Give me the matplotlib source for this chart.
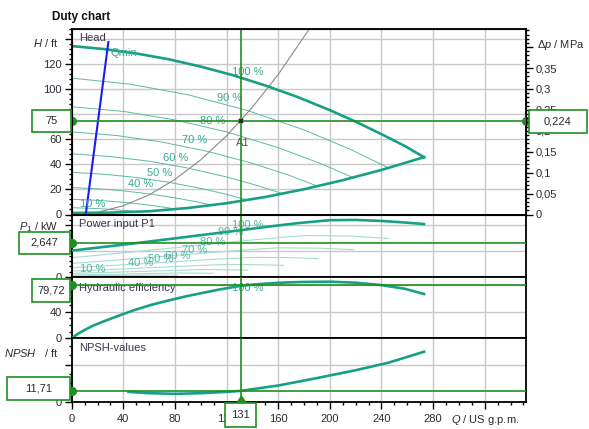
import matplotlib
matplotlib.use("Agg")
import matplotlib.pyplot as plt
from matplotlib.patches import Rectangle
from matplotlib.ticker import FixedLocator, MultipleLocator, FuncFormatter

plt.rcParams['font.family'] = ['Liberation Sans', 'DejaVu Sans']
plt.rcParams['mathtext.fontset'] = 'custom'
plt.rcParams['mathtext.rm'] = 'Liberation Sans'
plt.rcParams['mathtext.it'] = 'Liberation Sans:italic'

W_PX, H_PX = 589, 429

# 100 % speed curves, flow in US gpm
full_q = [0, 25, 50, 75, 100, 125, 150, 175, 200, 220, 240, 258, 273]
full_head = [134.6, 132.2, 128.7, 124.1, 118.2, 111.3, 103.1, 93.9, 83.4, 74.2, 64.2, 54.8, 45.8]
full_power = [2.02, 2.31, 2.60, 2.91, 3.22, 3.53, 3.85, 4.15, 4.38, 4.40, 4.32, 4.20, 4.08]

# reduced speed curves
speed_pct = [90, 80, 70, 60, 50, 40, 30, 20, 10]
speed_q = [
    [0, 45, 90, 135, 180, 216, 245.7],
    [0, 40, 80, 120, 160, 192, 218.4],
    [0, 35, 70, 105, 140, 168, 191.1],
    [0, 30, 60, 90, 120, 144, 163.8],
    [0, 25, 50, 75, 100, 120, 136.5],
    [0, 20, 40, 60, 80, 96, 109.2],
    [0, 15, 30, 45, 60, 72, 81.9],
    [0, 10, 20, 30, 40, 48, 54.6],
    [0, 5, 10, 15, 20, 24, 27.3],
]
speed_head = [
    [109.0, 104.2, 95.7, 83.5, 67.6, 52.0, 37.1],
    [86.1, 82.4, 75.6, 66.0, 53.4, 41.1, 29.3],
    [66.0, 63.1, 57.9, 50.5, 40.9, 31.5, 22.4],
    [48.5, 46.3, 42.6, 37.1, 30.0, 23.1, 16.5],
    [33.7, 32.2, 29.6, 25.8, 20.9, 16.1, 11.5],
    [21.5, 20.6, 18.9, 16.5, 13.3, 10.3, 7.3],
    [12.1, 11.6, 10.6, 9.3, 7.5, 5.8, 4.1],
    [5.4, 5.1, 4.7, 4.1, 3.3, 2.6, 1.8],
    [1.3, 1.3, 1.2, 1.0, 0.8, 0.6, 0.5],
]
speed_power = [
    [1.47, 1.90, 2.35, 2.81, 3.19, 3.15, 2.97],
    [1.03, 1.33, 1.65, 1.97, 2.24, 2.21, 2.09],
    [0.69, 0.89, 1.10, 1.32, 1.50, 1.48, 1.40],
    [0.44, 0.56, 0.70, 0.83, 0.95, 0.93, 0.88],
    [0.25, 0.33, 0.40, 0.48, 0.55, 0.54, 0.51],
    [0.13, 0.17, 0.21, 0.25, 0.28, 0.28, 0.26],
    [0.05, 0.07, 0.09, 0.10, 0.12, 0.12, 0.11],
    [0.02, 0.02, 0.03, 0.03, 0.04, 0.03, 0.03],
    [0.00, 0.00, 0.00, 0.00, 0.01, 0.00, 0.00],
]

# max flow limit line
limit_q = [0, 30, 60, 90, 120, 150, 180, 210, 240, 273]
limit_h = [1.2, 1.5, 2.6, 5.2, 9.0, 14.0, 20.2, 27.4, 35.6, 45.8]

# system curve through duty point
system_q = [0, 20, 40, 60, 80, 100, 120, 140, 160, 185]
system_h = [0, 1.7, 7.0, 15.7, 28.0, 43.7, 62.9, 85.7, 111.9, 149.6]

# Qmin line
qmin_q = [11.1, 28.4]
qmin_h = [1.6, 137.8]

# hydraulic efficiency at 100 %
eff_q = [0, 5, 10, 16, 22, 35, 48, 61, 74, 87, 100, 115, 130, 142, 154, 167, 180, 200,
         220, 239, 258, 273]
eff_val = [0, 7, 12.5, 18.5, 23.3, 33, 42.1, 49.9, 56.4, 62.4, 67.7, 73.5, 78.6, 81,
           82.7, 84, 84.7, 85.1, 83.6, 80.2, 74.5, 66.6]

# NPSH required
npsh_q = [44, 60, 80, 100, 120, 131, 160, 190, 220, 245, 273]
npsh_val = [10.6, 9.2, 8.5, 9.2, 10.6, 11.7, 17.5, 25.5, 34, 42, 54]

# duty point readouts
duty_q = 131
duty_h = 75
duty_dp = "0,224"
duty_p = 2.647
duty_eff = 79.72
duty_npsh = 11.71

# label anchors for the speed percentages (pct, Q, value)
head_labels = [(100, 123.9, 114.2), (90, 112.3, 93.4), (80, 99.4, 75.0), (70, 85.2, 59.6),
               (60, 70.7, 45.2), (50, 58.3, 33.2), (40, 43.6, 24.4), (10, 6.4, 8.4)]
power_labels = [(10, 6.4, 0.6), (40, 43.6, 1.06), (50, 59.1, 1.37), (60, 72.3, 1.60),
                (70, 85.4, 2.07), (80, 99.4, 2.71), (90, 113.3, 3.49), (100, 124.2, 4.0)]

TEAL = '#17a084'
TEAL_THIN = '#5db8a5'
TEAL_PALE = '#a6dccf'
GREEN = '#1f8f1f'
GRID = '#c8c8c8'
TXT = '#2a2a33'
LBL = '#3a3350'
PCT = '#38a892'
FS = 8

fig = plt.figure(figsize=(W_PX / 100, H_PX / 100), dpi=100)

left = 71.7 / W_PX
width = (526 - 71.7) / W_PX


def panel(top_px, bot_px):
    return fig.add_axes([left, 1 - bot_px / H_PX, width, (bot_px - top_px) / H_PX])


ax_h = panel(29.3, 214.5)
ax_p = panel(214.5, 276.7)
ax_e = panel(276.7, 338.3)
ax_n = panel(338.3, 401.7)
axes = [ax_h, ax_p, ax_e, ax_n]

for ax in axes:
    ax.set_xlim(0, 352)
    ax.xaxis.set_major_locator(MultipleLocator(40))
    ax.xaxis.set_minor_locator(MultipleLocator(10))
    ax.grid(True, which='major', color=GRID, lw=1.0)
    ax.set_axisbelow(True)
    for s in ax.spines.values():
        s.set_color('black')
        s.set_linewidth(1.3)
    ax.tick_params(which='major', direction='out', length=5, width=1, pad=2,
                   labelsize=FS, labelcolor=TXT)
    ax.tick_params(which='minor', direction='out', length=2.5, width=1)
    ax.axvline(duty_q, color=GREEN, lw=1.2, zorder=4)

for ax in axes[:3]:
    ax.tick_params(axis='x', which='both', length=0, labelbottom=False)

# head panel
ax_h.set_ylim(0, 148)
ax_h.yaxis.set_major_locator(MultipleLocator(20))
ax_h.yaxis.set_minor_locator(MultipleLocator(4))
ax_h.yaxis.set_major_formatter(FuncFormatter(lambda v, p: '' if v > 130 else '%d' % v))
for q, h in zip(speed_q, speed_head):
    ax_h.plot(q, h, color=TEAL_THIN, lw=0.7, zorder=2)
ax_h.plot(full_q, full_head, color=TEAL, lw=1.9, zorder=3)
ax_h.plot(limit_q, limit_h, color=TEAL, lw=1.9, zorder=3)
ax_h.plot(system_q, system_h, color='#8a8a8a', lw=0.8, zorder=2)
ax_h.plot(qmin_q, qmin_h, color='#1c1cf0', lw=1.5, zorder=3, clip_on=False)
for pct, q, v in head_labels:
    ax_h.text(q, v, '%d %%' % pct, color=PCT, fontsize=FS, ha='left', va='center', zorder=3)
ax_h.text(0.016, 0.955, 'Head', transform=ax_h.transAxes, fontsize=FS, color=LBL, va='center')
ax_h.text(29.7, 129.2, 'Qmin', fontsize=FS, color=PCT, va='center')
ax_h.plot([duty_q], [duty_h], marker='x', ms=3.5, mew=1.3, color='#222222', zorder=6)
ax_h.text(127.3, 57.2, 'A1', fontsize=FS, color='#5a4a6a', va='center')
ax_h.axhline(duty_h, color=GREEN, lw=1.2, zorder=4)
ax_h.plot([0, 352], [duty_h, duty_h], 'o', ms=5.5, color=GREEN, clip_on=False, zorder=7)
ax_h.annotate('$H$ / ft', xy=(0, 137), xycoords=('axes fraction', 'data'),
              xytext=(-9.7, 0), textcoords='offset points', ha='right', va='center',
              fontsize=FS, color=TXT)

ax_dp = ax_h.twinx()
ax_dp.set_ylim(0, 148 * 0.00299)
ax_dp.yaxis.set_major_locator(MultipleLocator(0.05))
ax_dp.yaxis.set_minor_locator(MultipleLocator(0.01))
ax_dp.yaxis.set_major_formatter(FuncFormatter(
    lambda v, p: '' if v > 0.37 else ('%g' % round(v, 2)).replace('.', ',')))
ax_dp.tick_params(which='major', direction='out', length=5, width=1, pad=2,
                  labelsize=FS, labelcolor=TXT)
ax_dp.tick_params(which='minor', direction='out', length=2.5, width=1)
ax_dp.annotate(r'$\Delta p$ / MPa', xy=(1, 0.405), xycoords=('axes fraction', 'data'),
               xytext=(8, 0), textcoords='offset points', ha='left', va='center',
               fontsize=FS, color=TXT)

# power panel
ax_p.set_ylim(0, 4.82)
ax_p.yaxis.set_major_locator(FixedLocator([0, 2, 4]))
ax_p.yaxis.set_minor_locator(MultipleLocator(0.4))
ax_p.yaxis.set_major_formatter(FuncFormatter(lambda v, p: '0' if v == 0 else ''))
for q, pw in zip(speed_q, speed_power):
    ax_p.plot(q, pw, color=TEAL_PALE, lw=0.8, zorder=2)
ax_p.plot(full_q, full_power, color=TEAL, lw=1.9, zorder=3)
for pct, q, v in power_labels:
    ax_p.text(q, v, '%d %%' % pct, color=PCT, fontsize=FS, ha='left', va='center',
              alpha=0.85, zorder=3)
ax_p.text(0.016, 0.847, 'Power input P1', transform=ax_p.transAxes, fontsize=FS,
          color=LBL, va='center')
ax_p.axhline(duty_p, color=GREEN, lw=1.2, zorder=4)
ax_p.plot([0], [duty_p], 'o', ms=5.5, color=GREEN, clip_on=False, zorder=7)
ax_p.annotate('$P_1$ / kW', xy=(0, 3.85), xycoords=('axes fraction', 'data'),
              xytext=(-9.7, 0), textcoords='offset points', ha='right', va='center',
              fontsize=FS, color=TXT)

# efficiency panel
ax_e.set_ylim(0, 92.6)
ax_e.yaxis.set_major_locator(FixedLocator([0, 40, 80]))
ax_e.yaxis.set_minor_locator(MultipleLocator(10))
ax_e.plot(eff_q, eff_val, color=TEAL, lw=1.9, zorder=3)
ax_e.text(124, 76.1, '100 %', color=PCT, fontsize=FS, ha='left', va='center', zorder=3)
ax_e.text(0.016, 0.82, 'Hydraulic efficiency', transform=ax_e.transAxes, fontsize=FS,
          color=LBL, va='center')
ax_e.axhline(duty_eff, color=GREEN, lw=1.2, zorder=4)
ax_e.plot([0], [duty_eff], 'o', ms=5.5, color=GREEN, clip_on=False, zorder=7)

# NPSH panel
ax_n.set_ylim(0, 68.5)
ax_n.yaxis.set_major_locator(FixedLocator([0, 40]))
ax_n.yaxis.set_minor_locator(MultipleLocator(10))
ax_n.yaxis.set_major_formatter(FuncFormatter(lambda v, p: '0' if v == 0 else ''))
ax_n.xaxis.set_major_formatter(FuncFormatter(lambda v, p: '' if v > 300 else '%d' % v))
ax_n.tick_params(axis='x', which='major', pad=4)
ax_n.plot(npsh_q, npsh_val, color=TEAL, lw=1.9, zorder=3)
ax_n.text(0.016, 0.84, 'NPSH-values', transform=ax_n.transAxes, fontsize=FS,
          color=LBL, va='center')
ax_n.axhline(duty_npsh, color=GREEN, lw=1.2, zorder=4)
ax_n.plot([0], [duty_npsh], 'o', ms=5.5, color=GREEN, clip_on=False, zorder=7)
ax_n.plot([duty_q], [0], marker=[(-1, 0), (1, 0), (0, 1.4), (-1, 0)], ms=9,
          color=GREEN, clip_on=False, zorder=7)
ax_n.annotate('$NPSH$   / ft', xy=(0, 52.6), xycoords=('axes fraction', 'data'),
              xytext=(-9.7, 0), textcoords='offset points', ha='right', va='center',
              fontsize=FS, color=TXT)
ax_n.annotate('$Q$ / US g.p.m.', xy=(320, 0), xycoords=('data', 'axes fraction'),
              xytext=(0, -13.5), textcoords='offset points', ha='center', va='center',
              fontsize=FS, color=TXT)

fig.text(52 / W_PX, 1 - 16.7 / H_PX, 'Duty chart', fontsize=8.5, fontweight='bold',
         color='#111111', va='center')


def value_box(ax, val, text, x0, x1, h=22, dy=0):
    y = ax.transData.transform((0, val))[1] / H_PX - dy / H_PX
    fig.add_artist(Rectangle((x0 / W_PX, y - h / 2 / H_PX), (x1 - x0) / W_PX, h / H_PX,
                             transform=fig.transFigure, fc='white', ec=GREEN, lw=1.2,
                             zorder=10))
    fig.text((x0 + x1) / 2 / W_PX, y, text, ha='center', va='center', fontsize=FS,
             color=TXT, zorder=11)


value_box(ax_h, duty_h, '%d' % duty_h, 32, 70.7, dy=0.5)
value_box(ax_h, duty_h, duty_dp, 529, 587, h=23, dy=0.5)
value_box(ax_p, duty_p, ('%.3f' % duty_p).replace('.', ','), 19, 70)
value_box(ax_e, duty_eff, ('%.2f' % duty_eff).replace('.', ','), 32, 70, h=22.7, dy=5)
value_box(ax_n, duty_npsh, ('%.2f' % duty_npsh).replace('.', ','), 7, 70, h=22.6, dy=-2.3)

# flow readout under the axis
xc = ax_n.transData.transform((duty_q, 0))[0]
fig.add_artist(Rectangle(((xc - 15.6) / W_PX, 1 - 427 / H_PX), 31.2 / W_PX, 24 / H_PX,
                         transform=fig.transFigure, fc='white', ec=GREEN, lw=1.2, zorder=10))
fig.text(xc / W_PX, 1 - 415 / H_PX, '%d' % duty_q, ha='center', va='center', fontsize=FS,
         color=TXT, zorder=11)

fig.savefig('out.png', dpi=100)
